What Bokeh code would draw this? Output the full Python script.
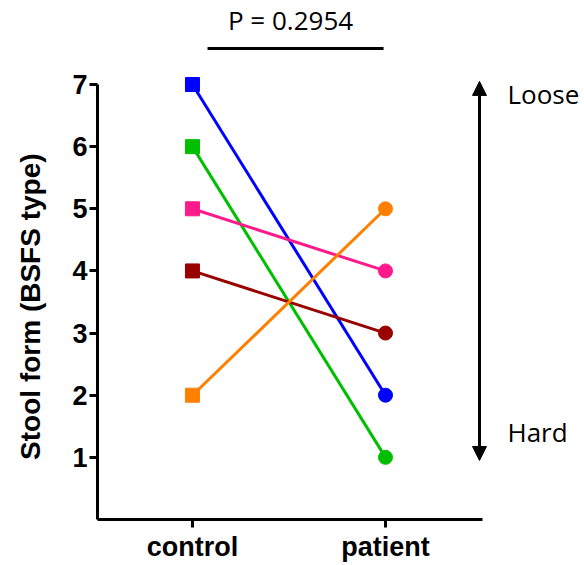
from bokeh.plotting import figure
from bokeh.models import Range1d, FixedTicker, Arrow, NormalHead, Label
from bokeh.embed import file_html
from bokeh.resources import INLINE

# ---- data ----
groups = ["control", "patient"]
control_vals = [7, 6, 5, 4, 2]
patient_vals = [2, 1, 4, 3, 5]
colors = ["#0000FF", "#00BF00", "#FF1A8C", "#990000", "#FF8000"]
y_ticks = [1, 2, 3, 4, 5, 6, 7]
p_text = "P = 0.2954"
y_title = "Stool form (BSFS type)"

p = figure(width=584, height=565, output_backend="svg", toolbar_location=None,
           x_range=Range1d(-0.492, 2.031), y_range=Range1d(0, 8.352),
           min_border_left=97, min_border_right=0, min_border_top=0, min_border_bottom=46)
p.outline_line_color = None
p.xgrid.visible = False
p.ygrid.visible = False

xs = [[0, 1] for _ in control_vals]
ys = [[c, q] for c, q in zip(control_vals, patient_vals)]
p.multi_line(xs=xs, ys=ys, line_color=colors, line_width=3)
p.scatter(x=[0] * len(control_vals), y=control_vals, marker="square", size=14,
          fill_color=colors, line_color=colors)
p.scatter(x=[1] * len(patient_vals), y=patient_vals, marker="circle", size=14,
          fill_color=colors, line_color=colors)

# axes
for ax in (p.xaxis[0], p.yaxis[0]):
    ax.axis_line_width = 3
    ax.major_tick_line_width = 3
    ax.major_tick_out = 8
    ax.major_tick_in = 0
    ax.minor_tick_line_color = None
    ax.major_label_text_font = "Liberation Sans"
    ax.major_label_text_font_style = "bold"
    ax.major_label_text_font_size = "27px"
    ax.major_label_text_color = "black"
    ax.axis_line_color = "black"
    ax.major_tick_line_color = "black"

p.xaxis.ticker = FixedTicker(ticks=[0, 1])
p.xaxis.major_label_overrides = {i: g for i, g in enumerate(groups)}
p.xaxis.bounds = (-0.492, 1.5)
p.xaxis.major_label_standoff = 4

p.yaxis.ticker = FixedTicker(ticks=y_ticks)
p.yaxis.bounds = (0, 7)
p.yaxis.major_label_standoff = 2
# trailing no-break spaces move the visible title down onto the 0..7 axis line
p.yaxis.axis_label = y_title + "\u00a0" * 12
p.yaxis.axis_label_text_font = "Liberation Sans"
p.yaxis.axis_label_text_font_style = "bold"
p.yaxis.axis_label_text_font_size = "28px"
p.yaxis.axis_label_text_color = "black"
p.yaxis.axis_label_standoff = 23

# significance bar and text
p.segment(x0=0.078, y0=7.58, x1=0.99, y1=7.58, line_color="black", line_width=3)
p.add_layout(Label(x=0.508, y=8.04, text=p_text, text_align="center",
                   text_baseline="alphabetic", text_font="Open Sans",
                   text_font_size="26px", text_color="black"))

# double-headed arrow with Loose / Hard
p.add_layout(Arrow(x_start=1.487, y_start=0.95, x_end=1.487, y_end=7.05,
                   line_width=3, line_color="black",
                   start=NormalHead(size=14, fill_color="black", line_color="black"),
                   end=NormalHead(size=14, fill_color="black", line_color="black")))
p.add_layout(Label(x=1.632, y=6.84, text="Loose", text_align="left",
                   text_baseline="alphabetic", text_font="Open Sans",
                   text_font_size="26px", text_color="black"))
p.add_layout(Label(x=1.632, y=1.41, text="Hard", text_align="left",
                   text_baseline="alphabetic", text_font="Open Sans",
                   text_font_size="26px", text_color="black"))

open("out.html", "w").write(file_html(p, INLINE))
